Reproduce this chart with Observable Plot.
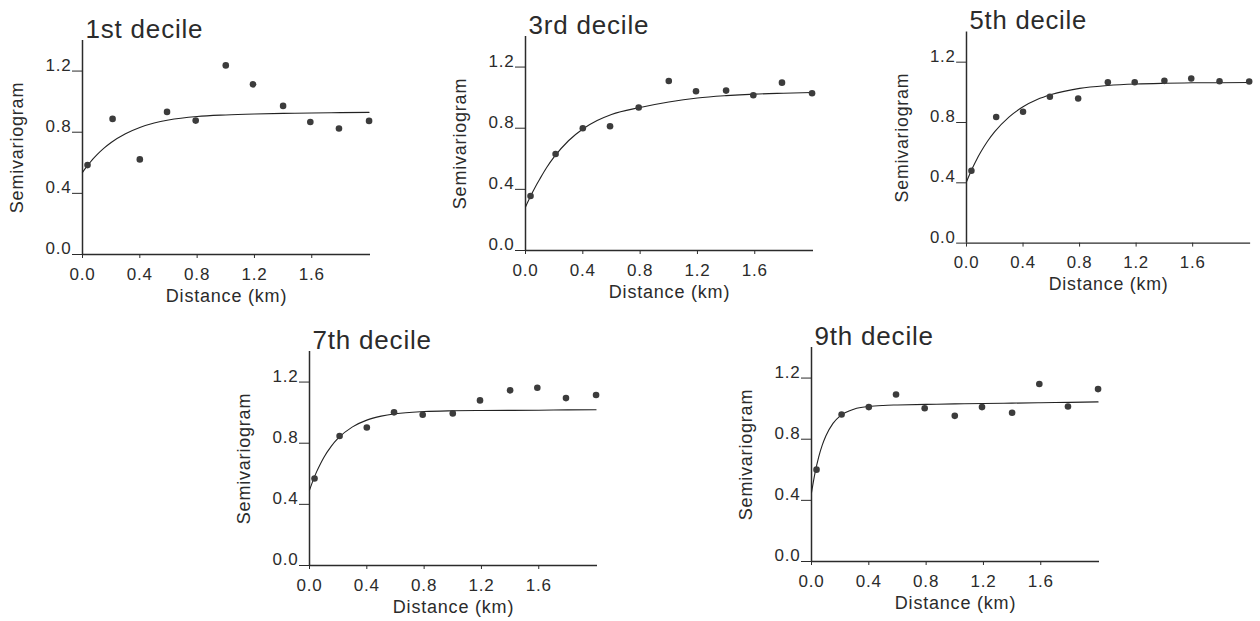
<!DOCTYPE html>
<html><head><meta charset="utf-8">
<script src="https://cdn.jsdelivr.net/npm/d3@7"></script>
<script src="https://cdn.jsdelivr.net/npm/@observablehq/plot@0.6"></script>
<style>
html,body{margin:0;padding:0;background:#fff;}
#chart{position:relative;width:1260px;height:621px;overflow:hidden;font-family:"Liberation Sans",Arial,sans-serif;}
.panel{position:absolute;}
</style></head><body><div id="chart"></div>
<script>
// ---- data ----
const panelTitles = ["1st decile", "3rd decile", "5th decile", "7th decile", "9th decile"];
const lagDistance = [0.035, 0.21, 0.40, 0.59, 0.79, 1.00, 1.19, 1.40, 1.59, 1.79, 2.00];
const decile1 = [0.585, 0.887, 0.622, 0.933, 0.876, 1.237, 1.113, 0.972, 0.867, 0.824, 0.874];
const decile3 = [0.357, 0.631, 0.800, 0.813, 0.936, 1.109, 1.042, 1.046, 1.016, 1.098, 1.029];
const decile5 = [0.480, 0.837, 0.872, 0.970, 0.959, 1.067, 1.067, 1.076, 1.091, 1.074, 1.072];
const decile7 = [0.569, 0.847, 0.903, 1.002, 0.986, 0.995, 1.080, 1.146, 1.163, 1.095, 1.115];
const decile9 = [0.601, 0.962, 1.010, 1.093, 1.003, 0.953, 1.010, 0.973, 1.161, 1.014, 1.128];
const fitDistance = [0, 0.025, 0.05, 0.075, 0.1, 0.15, 0.2, 0.3, 0.4, 0.5, 0.6, 0.8, 1.0, 1.2, 1.4, 1.6, 1.8, 2.0];
const fit1 = [0.537, 0.570, 0.599, 0.627, 0.652, 0.696, 0.733, 0.790, 0.831, 0.860, 0.880, 0.903, 0.913, 0.919, 0.923, 0.926, 0.928, 0.930];
const fit3 = [0.285, 0.335, 0.382, 0.427, 0.468, 0.546, 0.612, 0.718, 0.795, 0.850, 0.890, 0.936, 0.972, 0.998, 1.013, 1.023, 1.029, 1.034];
const fit5 = [0.407, 0.462, 0.513, 0.560, 0.602, 0.677, 0.739, 0.836, 0.904, 0.952, 0.985, 1.026, 1.045, 1.055, 1.060, 1.063, 1.064, 1.065];
const fit7 = [0.493, 0.557, 0.614, 0.663, 0.707, 0.778, 0.833, 0.907, 0.951, 0.977, 0.993, 1.007, 1.012, 1.014, 1.015, 1.016, 1.018, 1.019];
const fit9 = [0.450, 0.581, 0.683, 0.761, 0.821, 0.904, 0.953, 0.998, 1.014, 1.021, 1.024, 1.028, 1.031, 1.034, 1.036, 1.039, 1.041, 1.044];
const xTicks = [0, 0.4, 0.8, 1.2, 1.6];
const yTicks = [0, 0.4, 0.8, 1.2];
const xLabel = "Distance (km)";
const yLabel = "Semivariogram";

// ---- layout ----
const observed = [decile1, decile3, decile5, decile7, decile9];
const fitted = [fit1, fit3, fit5, fit7, fit9];
const placement = [
  {left: 7, top: 4},
  {left: 450, top: 0},
  {left: 892, top: -4},
  {left: 234, top: 315},
  {left: 736, top: 311}
];
const ink = "#2b2b2b";
const fmt = d3.format(".1f");
const chart = document.getElementById("chart");

panelTitles.forEach((title, p) => {
  const pts = lagDistance.map((d, i) => ({x: d, y: observed[p][i]}));
  const fit = fitDistance.map((d, i) => ({x: d, y: fitted[p][i]}));
  const svg = Plot.plot({
    width: 373, height: 300,
    marginLeft: 75, marginRight: 10, marginTop: 36, marginBottom: 50,
    x: {domain: [0, 2.01]},
    y: {domain: [0, 1.4]},
    style: {fontFamily: '"Liberation Sans", Arial, sans-serif', fontSize: "17px", color: ink, background: "transparent", overflow: "visible", letterSpacing: "0.8px"},
    marks: [
      Plot.axisX({ticks: xTicks, tickFormat: fmt, tickSize: 4, tickPadding: 9, fontSize: 17, label: null}),
      Plot.axisY({ticks: yTicks, tickFormat: () => "", tickSize: 10, label: null}),
      Plot.axisY({ticks: yTicks, tickFormat: fmt, tickSize: 0, tickPadding: 11, dy: -6, fontSize: 17, label: null}),
      Plot.ruleX([0], {stroke: ink, strokeWidth: 1.5}),
      Plot.ruleY([0], {stroke: ink, strokeWidth: 1.5}),
      Plot.line(fit, {x: "x", y: "y", curve: "monotone-x", stroke: "#222", strokeWidth: 1.1}),
      Plot.dot(pts, {x: "x", y: "y", r: 3.3, fill: "#3c3c3c", stroke: "none"}),
      Plot.text([title], {frameAnchor: "top-left", textAnchor: "start", dx: 3, dy: -3, lineAnchor: "bottom", fontSize: 26, fill: ink}),
      Plot.text([yLabel], {frameAnchor: "left", textAnchor: "middle", rotate: -90, dx: -65, fontSize: 18, fill: ink}),
      Plot.text([xLabel], {frameAnchor: "bottom", textAnchor: "middle", dy: 35, lineAnchor: "top", fontSize: 18, fill: ink})
    ]
  });
  const wrap = document.createElement("div");
  wrap.className = "panel";
  wrap.style.left = placement[p].left + "px";
  wrap.style.top = placement[p].top + "px";
  wrap.appendChild(svg);
  chart.appendChild(wrap);
});
</script>
</body></html>
